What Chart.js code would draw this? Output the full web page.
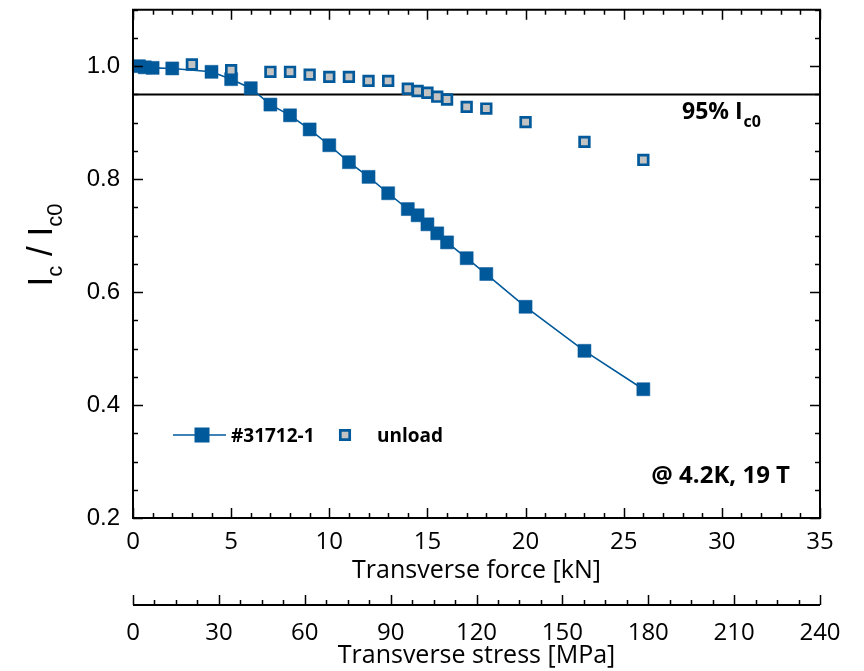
<!DOCTYPE html>
<html><head><meta charset="utf-8">
<script src="https://cdn.jsdelivr.net/npm/chart.js@4.4.1/dist/chart.umd.min.js"></script>
<style>html,body{margin:0;padding:0;background:#fff;overflow:hidden}#wrap{width:864px;height:671px}</style>
</head><body><div id="wrap"><canvas id="c" width="864" height="671"></canvas></div>
<script>
// ---- data ----
const forceMain = [0.3, 0.6, 1, 2, 4, 5, 6, 7, 8, 9, 10, 11, 12, 13, 14, 14.5, 15, 15.5, 16, 17, 18, 20, 23, 26];
const icMain    = [1.000, 0.998, 0.997, 0.996, 0.990, 0.977, 0.961, 0.932, 0.913, 0.888, 0.860, 0.830, 0.804, 0.775, 0.747, 0.736, 0.720, 0.704, 0.688, 0.660, 0.632, 0.574, 0.496, 0.428];
const forceUnload = [3, 5, 7, 8, 9, 10, 11, 12, 13, 14, 14.5, 15, 15.5, 16, 17, 18, 20, 23, 26];
const icUnload    = [1.003, 0.993, 0.990, 0.990, 0.985, 0.981, 0.981, 0.974, 0.974, 0.960, 0.956, 0.953, 0.946, 0.941, 0.928, 0.925, 0.901, 0.866, 0.834];
const refForce = [0, 35];
const refLevel = [0.95, 0.95];
const forceTicks  = [0, 5, 10, 15, 20, 25, 30, 35];
const stressTicks = [0, 30, 60, 90, 120, 150, 180, 210, 240];
const icTicks     = [0.2, 0.4, 0.6, 0.8, 1.0];
const seriesNames = ['#31712-1', 'unload'];
const xTitle  = 'Transverse force [kN]';
const x2Title = 'Transverse stress [MPa]';
const refLabel = ['95% I', 'c0'];
const condLabel = '@ 4.2K, 19 T';

const BLUE = '#00599a';
const GREY = '#c3c3c3';
const toXY = (xs, ys) => xs.map((v, i) => ({x: v, y: ys[i]}));

const decor = {
  id: 'decor',
  afterDraw(chart) {
    const {ctx, chartArea: a, scales} = chart;
    const x = scales.x, y = scales.y, x2 = scales.x2;
    ctx.save();
    ctx.strokeStyle = '#000';
    // frame
    ctx.lineWidth = 2;
    ctx.beginPath();
    ctx.rect(a.left, a.top, a.right - a.left, a.bottom - a.top);
    ctx.stroke();
    // inward ticks
    ctx.lineWidth = 1.5;
    ctx.beginPath();
    for (let v = 0; v <= 35; v += 1) {
      const px = Math.round(x.getPixelForValue(v)) + 0.5;
      const L = v % 5 === 0 ? 10 : 5;
      ctx.moveTo(px, a.bottom); ctx.lineTo(px, a.bottom - L);
      ctx.moveTo(px, a.top); ctx.lineTo(px, a.top + L);
    }
    for (let k = 4; k <= 22; k++) {
      const py = Math.round(y.getPixelForValue(k * 0.05)) + 0.5;
      const L = k % 4 === 0 ? 10 : 5;
      ctx.moveTo(a.left, py); ctx.lineTo(a.left + L, py);
      ctx.moveTo(a.right, py); ctx.lineTo(a.right - L, py);
    }
    ctx.stroke();
    // secondary axis line with upward ticks
    const ly = x2.top + 21;
    ctx.lineWidth = 2;
    ctx.beginPath();
    ctx.moveTo(x2.left, ly); ctx.lineTo(x2.right, ly);
    ctx.stroke();
    ctx.lineWidth = 1.5;
    ctx.beginPath();
    for (let v = 0; v <= 240; v += 7.5) {
      const px = Math.round(x2.getPixelForValue(v)) + 0.5;
      const L = v % 30 === 0 ? 10 : 5;
      ctx.moveTo(px, ly); ctx.lineTo(px, ly - L);
    }
    ctx.stroke();

    // y title  I_c / I_c0
    ctx.fillStyle = '#000';
    ctx.save();
    ctx.translate(51.5, 245);
    ctx.rotate(-Math.PI / 2);
    const big = '35px "Liberation Sans", Arial, sans-serif';
    const sm = '22px "Liberation Sans", Arial, sans-serif';
    const parts = [['I', big, 0], ['c', sm, 10], [' / I', big, 0], ['c0', sm, 10]];
    let w = 0;
    parts.forEach(p => { ctx.font = p[1]; w += ctx.measureText(p[0]).width; });
    let cx = -w / 2;
    ctx.textBaseline = 'alphabetic'; ctx.textAlign = 'left';
    parts.forEach(p => { ctx.font = p[1]; ctx.fillText(p[0], cx, p[2]); cx += ctx.measureText(p[0]).width; });
    ctx.restore();

    // 95% I_c0 label
    ctx.textBaseline = 'alphabetic'; ctx.textAlign = 'left';
    ctx.font = 'bold 23px "Open Sans", sans-serif';
    ctx.fillText(refLabel[0], 682, 119);
    const w1 = ctx.measureText(refLabel[0]).width;
    ctx.font = 'bold 16px "Open Sans", sans-serif';
    ctx.fillText(refLabel[1], 682 + w1 + 1, 126.5);

    // condition label
    ctx.font = 'bold 24px "Open Sans", sans-serif';
    ctx.textAlign = 'right';
    ctx.fillText(condLabel, 790, 483);

    // legend
    const d0 = chart.data.datasets[0], d1 = chart.data.datasets[1];
    const lgY = 435;
    ctx.strokeStyle = d0.borderColor; ctx.lineWidth = d0.borderWidth;
    ctx.beginPath(); ctx.moveTo(173, lgY); ctx.lineTo(226, lgY); ctx.stroke();
    ctx.fillStyle = d0.pointBackgroundColor;
    ctx.fillRect(202 - 7.5, lgY - 7.5, 15, 15);
    ctx.fillStyle = d1.pointBackgroundColor; ctx.strokeStyle = d1.pointBorderColor; ctx.lineWidth = 2.7;
    ctx.beginPath(); ctx.rect(345 - 4.7, lgY - 4.7, 9.4, 9.4); ctx.fill(); ctx.stroke();
    ctx.fillStyle = '#000';
    ctx.font = 'bold 19px "Open Sans", sans-serif';
    ctx.textAlign = 'left'; ctx.textBaseline = 'alphabetic';
    ctx.fillText(d0.label, 231, 442);
    ctx.fillText(d1.label, 377, 442);
    ctx.restore();
  }
};

const chart = new Chart(document.getElementById('c'), {
  type: 'scatter',
  data: {
    datasets: [
      { label: seriesNames[0], data: toXY(forceMain, icMain), showLine: true,
        borderColor: BLUE, borderWidth: 1.6, pointStyle: 'rect', pointRadius: 9.2,
        pointBackgroundColor: BLUE, pointBorderColor: BLUE, pointBorderWidth: 0.5, clip: false, order: 2 },
      { label: seriesNames[1], data: toXY(forceUnload, icUnload), showLine: false,
        pointStyle: 'rect', pointRadius: 6.8, pointBackgroundColor: GREY, pointBorderColor: BLUE,
        pointBorderWidth: 2.7, borderColor: BLUE, backgroundColor: GREY, clip: false, order: 1 },
      { label: 'ref', data: toXY(refForce, refLevel), showLine: true, borderColor: '#000',
        borderWidth: 2, pointRadius: 0, order: 3 }
    ]
  },
  options: {
    responsive: false, animation: false, devicePixelRatio: 1,
    layout: { padding: { top: 8, right: 44, left: 0, bottom: 0 } },
    plugins: { legend: { display: false }, tooltip: { enabled: false } },
    scales: {
      y: {
        type: 'linear', position: 'left', min: 0.2, max: 1.1,
        afterBuildTicks: s => { s.ticks = icTicks.map(v => ({value: v})); },
        afterFit: s => { s.width = 133; s.paddingTop = 0; s.paddingBottom = 0; },
        grid: { display: false, drawTicks: false, tickLength: 0 },
        border: { display: false },
        ticks: { padding: 13, color: '#000', font: { family: '"Liberation Sans", Arial, sans-serif', size: 24 },
                 callback: v => Number(v).toFixed(1) }
      },
      x: {
        type: 'linear', position: 'bottom', min: 0, max: 35, weight: 0,
        afterBuildTicks: s => { s.ticks = forceTicks.map(v => ({value: v})); },
        afterFit: s => { s.height = 66; s.paddingLeft = 0; s.paddingRight = 0; },
        grid: { display: false, drawTicks: false, tickLength: 0 },
        border: { display: false },
        ticks: { padding: 10, color: '#000', maxRotation: 0, font: { family: '"Open Sans", sans-serif', size: 24 },
                 callback: v => String(v) },
        title: { display: true, text: xTitle, color: '#000', padding: { top: 0, bottom: -2 }, font: { family: '"Open Sans", sans-serif', size: 25 } }
      },
      x2: {
        type: 'linear', position: 'bottom', min: 0, max: 240, weight: 1,
        afterBuildTicks: s => { s.ticks = stressTicks.map(v => ({value: v})); },
        afterFit: s => { s.height = 87; s.paddingLeft = 0; s.paddingRight = 0; },
        grid: { display: false, drawTicks: false, tickLength: 0 },
        border: { display: false },
        ticks: { padding: 35, color: '#000', maxRotation: 0, font: { family: '"Open Sans", sans-serif', size: 24 },
                 callback: v => String(v) },
        title: { display: true, text: x2Title, color: '#000', padding: 0, font: { family: '"Open Sans", sans-serif', size: 25 } }
      }
    }
  },
  plugins: [decor]
});
if (document.fonts && document.fonts.ready) document.fonts.ready.then(() => chart.update());
</script></body></html>
